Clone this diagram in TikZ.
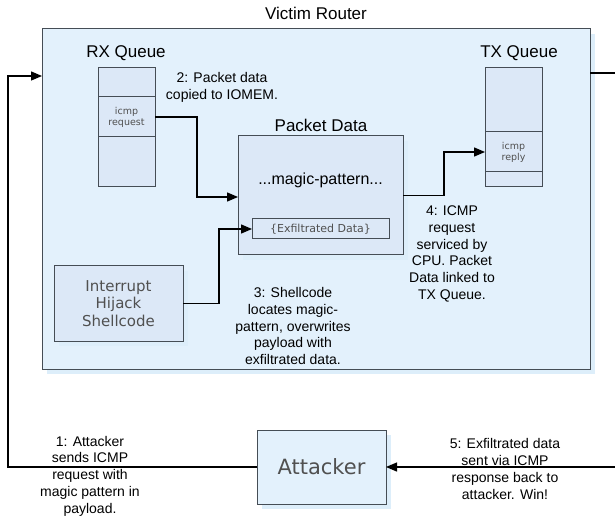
\documentclass[tikz,border=0pt]{standalone}
\usepackage{fontspec}
\setmainfont{Liberation Sans}
\newfontfamily\verd{DejaVu Sans}
\usetikzlibrary{arrows.meta,shadows}
\definecolor{boxfill}{HTML}{E3F1FC}
\definecolor{innerfill}{HTML}{DCE8F7}
\definecolor{edgegray}{HTML}{454D55}
\definecolor{shadowblue}{HTML}{DDEEFA}
\definecolor{graytext}{HTML}{505050}
\begin{document}
\begin{tikzpicture}[x=1pt,y=-1pt,
  myshadow/.style={drop shadow={shadow xshift=5pt,shadow yshift=-5pt,fill=shadowblue,opacity=1}},
  box/.style={draw=edgegray,line width=1pt,fill=boxfill,inner sep=0pt,outer sep=0pt,anchor=north west},
  ibox/.style={box,fill=innerfill},
  cell/.style={ibox,align=center,text=graytext,font=\verd\fontsize{9.5}{11}\selectfont},
  arr/.style={line width=1.3pt,-{Triangle[length=11pt,width=9pt]}},
  lbl/.style={align=center,font=\fontsize{14}{16.7}\selectfont,inner sep=0pt},
  ttl/.style={font=\fontsize{17}{20}\selectfont,inner sep=0pt},
  gtxt/.style={align=center,text=graytext,inner sep=0pt}]
\useasboundingbox (0,0) rectangle (615,518);
\fill[white] (0,0) rectangle (615,518);

% victim router
\node[box,myshadow,minimum width=548pt,minimum height=340pt] (victim) at (42,29) {};
\node[ttl] (vt) at (316,13) {Victim Router};

% RX queue
\node[ttl] (rxt) at (126,53) {RX Queue};
\node[cell,minimum width=57pt,minimum height=29pt] (rxtop) at (98,68) {};
\node[cell,minimum width=57pt,minimum height=40pt] (rxreq) at (98,97) {icmp\\request};
\node[cell,minimum width=57pt,minimum height=50pt] (rxbot) at (98,137) {};

% TX queue
\node[ttl] (txt) at (519,53) {TX Queue};
\node[cell,minimum width=57pt,minimum height=64pt] (txtop) at (485,68) {};
\node[cell,minimum width=57pt,minimum height=40pt] (txrep) at (485,132) {icmp\\reply};
\node[cell,minimum width=57pt,minimum height=15pt] (txbot) at (485,172) {};

% packet data
\node[ttl] (pdt) at (321,125) {Packet Data};
\node[ibox,myshadow,minimum width=165pt,minimum height=119pt] (pkt) at (238,136) {};
\node[font=\fontsize{16}{19}\selectfont,inner sep=0pt] (magic) at (320.5,180) {...magic-pattern...};
\node[ibox,minimum width=137pt,minimum height=20pt] (exf) at (252,219) {};
\node[gtxt,font=\verd\fontsize{11}{13}\selectfont] (exft) at (exf.center) {\{Exfiltrated Data\}};

% shellcode
\node[ibox,myshadow,minimum width=129pt,minimum height=75pt] (shell) at (54,266) {};
\node[gtxt,font=\verd\fontsize{15}{17.5}\selectfont] (shellt) at (shell.center) {Interrupt\\Hijack\\Shellcode};

% attacker
\node[box,myshadow,minimum width=129pt,minimum height=74pt] (attacker) at (257,430) {};
\node[gtxt,font=\verd\fontsize{21}{24}\selectfont] (attt) at (attacker.center) {Attacker};

% labels
\node[lbl] (l2) at (222,87.5) {2: Packet data\\copied to IOMEM.};
\node[lbl] (l3) at (293,326) {3: Shellcode\\locates magic-\\pattern, overwrites\\payload with\\exfiltrated data.};
\node[lbl] (l4) at (452,254) {4: ICMP\\request\\serviced by\\CPU. Packet\\Data linked to\\TX Queue.};
\node[lbl] (l1) at (90,476) {1: Attacker\\sends ICMP\\request with\\magic pattern in\\payload.};
\node[lbl] (l5) at (505,469) {5: Exfiltrated data\\sent via ICMP\\response back to\\attacker. Win!};

% connector helper coordinates
\coordinate (lc1) at (8,467);
\coordinate (lc2) at (8,76);
\coordinate (rc1) at (616,73);
\coordinate (rc2) at (616,467);
\coordinate (a2) at (197,197);
\coordinate (a3) at (219,229);
\coordinate (a4) at (444,152);

% connectors
\draw[arr] (attacker.west) -- (lc1) -- (lc2) -- (victim.west |- lc2);
\draw[arr] (victim.east |- rc1) -- (rc1) -- (rc2) -- (attacker.east);
\draw[arr] (rxreq.east) -| (a2) -- (pkt.west |- a2);
\draw[arr] (shell.east) -| (a3) -- (exf.west);
\draw[arr] (pkt.east) -| (a4) -- (txrep.west);
\end{tikzpicture}
\end{document}
